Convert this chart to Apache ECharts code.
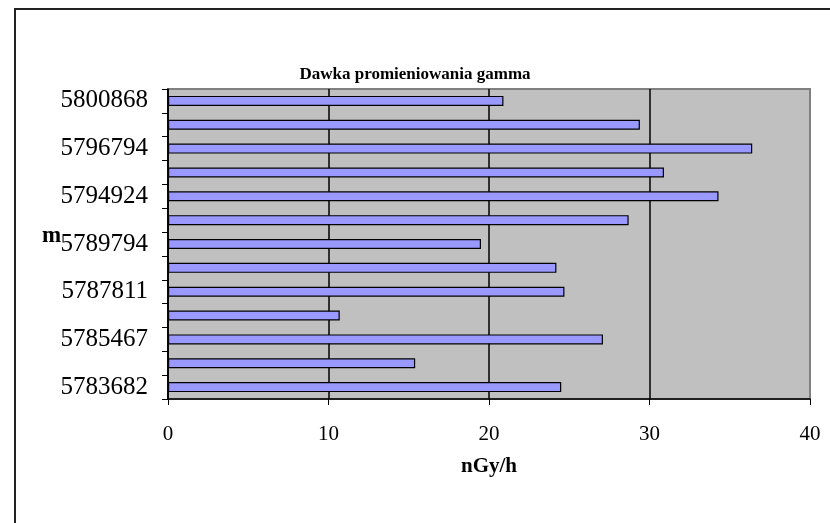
<!DOCTYPE html>
<html>
<head>
<meta charset="utf-8">
<script src="https://cdn.jsdelivr.net/npm/echarts@6/dist/echarts.min.js"></script>
<style>
html,body{margin:0;padding:0;background:#fff;}
#c{width:830px;height:523px;}
</style>
</head>
<body>
<div id="c"></div>
<script>
// bottom to top
const categories = ['5783682','5784600','5785467','5786700','5787811','5788900','5789794','5792400','5794924','5795900','5796794','5798900','5800868'];
const doseValues = [24.5, 15.4, 27.1, 10.7, 24.7, 24.2, 19.5, 28.7, 34.3, 30.9, 36.4, 29.4, 20.9];
const xTicks = [0, 10, 20, 30, 40];

const font = '"Liberation Serif", "Times New Roman", serif';
const chart = echarts.init(document.getElementById('c'));
chart.setOption({
  animation: false,
  backgroundColor: '#fff',
  title: {
    text: 'Dawka promieniowania gamma',
    left: 'center', top: 61,
    textStyle: {fontFamily: font, fontWeight: 'bold', fontSize: 17, color: '#000'}
  },
  graphic: [{
    type: 'rect', silent: true,
    shape: {x: 15, y: 9, width: 900, height: 700},
    style: {fill: 'none', stroke: '#222', lineWidth: 2}
  }, {
    type: 'text', silent: true, left: 42, top: 225,
    style: {text: 'm', font: 'bold 23px "Liberation Serif", serif', fill: '#000'}
  }],
  grid: {
    left: 168, right: 20, top: 89, bottom: 124,
    show: true, backgroundColor: '#C0C0C0', borderColor: '#808080', borderWidth: 2
  },
  xAxis: {
    type: 'value', min: xTicks[0], max: xTicks[xTicks.length - 1], interval: 10,
    name: 'nGy/h', nameLocation: 'middle', nameGap: 57,
    nameTextStyle: {fontFamily: font, fontWeight: 'bold', fontSize: 21, color: '#000'},
    axisLine: {show: true, lineStyle: {color: '#000', width: 1.5}},
    axisTick: {show: true, length: 6, lineStyle: {color: '#000'}},
    axisLabel: {fontFamily: font, fontSize: 21, color: '#000', margin: 25},
    splitLine: {show: true, lineStyle: {color: ['#000', '#000', '#000', '#000', '#808080'], width: 1.5}}
  },
  yAxis: {
    type: 'category', data: categories,
    axisLine: {show: true, lineStyle: {color: '#000', width: 1.5}},
    axisTick: {show: true, interval: 0, length: 6, alignWithLabel: false, lineStyle: {color: '#000'}},
    axisLabel: {interval: 1, fontFamily: font, fontSize: 25, color: '#000', margin: 20},
    splitLine: {show: false}
  },
  series: [{
    type: 'bar', data: doseValues, barWidth: '42%',
    itemStyle: {color: '#9999FF', borderColor: '#000', borderWidth: 1.2}
  }]
});
</script>
</body>
</html>
